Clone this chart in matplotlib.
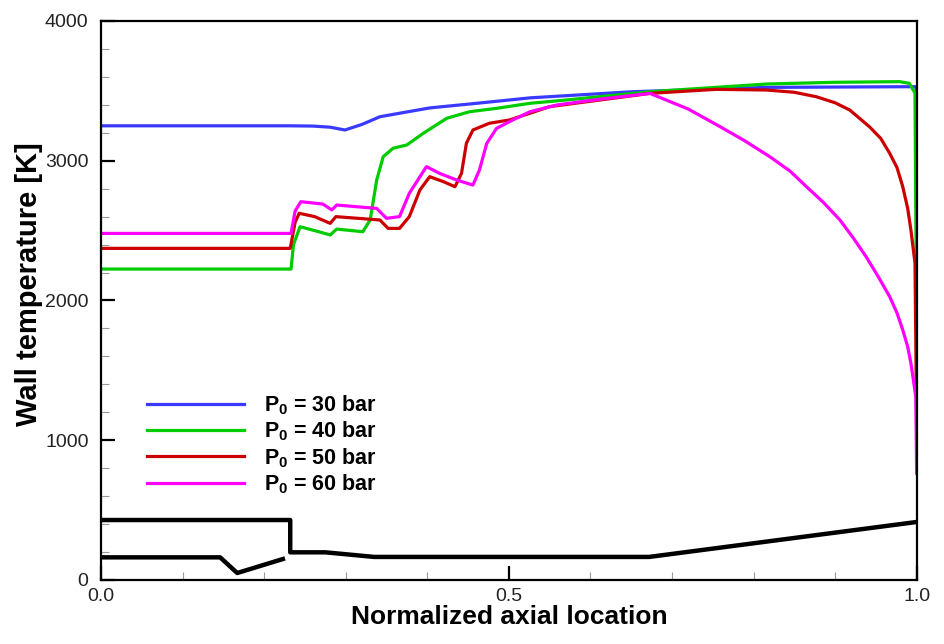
import matplotlib
matplotlib.use("Agg")
import matplotlib.pyplot as plt
from matplotlib.ticker import MultipleLocator

plt.rcParams['font.family'] = ['Liberation Sans', 'DejaVu Sans']
plt.rcParams['mathtext.fontset'] = 'custom'
plt.rcParams['mathtext.rm'] = 'Liberation Sans:bold'
plt.rcParams['mathtext.it'] = 'Liberation Sans:bold'
plt.rcParams['mathtext.bf'] = 'Liberation Sans:bold'

# wall temperature curves (normalized x, K)
x30 = [0, 0.232, 0.26, 0.281, 0.299, 0.32, 0.342, 0.403, 0.464, 0.526, 0.652, 0.816, 0.997, 0.9995, 1.0]
t30 = [3250, 3250, 3248, 3240, 3220, 3260, 3315, 3378, 3413, 3450, 3494, 3525, 3530, 3530, 2400]

x40 = [0, 0.233, 0.236, 0.244, 0.262, 0.281, 0.289, 0.321, 0.330, 0.338, 0.346, 0.358, 0.375,
       0.395, 0.424, 0.452, 0.485, 0.526, 0.571, 0.673, 0.816, 0.897, 0.979, 0.991, 0.998, 1.0]
t40 = [2225, 2225, 2400, 2528, 2500, 2469, 2511, 2492, 2576, 2862, 3029, 3089, 3113,
       3196, 3304, 3351, 3375, 3411, 3435, 3494, 3549, 3561, 3566, 3554, 3485, 1780]

x50 = [0, 0.232, 0.238, 0.243, 0.262, 0.281, 0.288, 0.342, 0.352, 0.366, 0.378, 0.391, 0.403,
       0.420, 0.434, 0.442, 0.448, 0.456, 0.476, 0.501, 0.526, 0.550, 0.673, 0.754, 0.816,
       0.850, 0.877, 0.900, 0.918, 0.942, 0.956, 0.967, 0.976, 0.983, 0.989, 0.993, 0.998, 1.0]
t50 = [2373, 2373, 2560, 2624, 2600, 2552, 2600, 2576, 2516, 2516, 2600, 2791, 2886,
       2850, 2814, 2910, 3125, 3220, 3268, 3292, 3340, 3387, 3482, 3511, 3506,
       3490, 3458, 3415, 3363, 3244, 3160, 3053, 2950, 2814, 2660, 2504, 2268, 1120]

x60 = [0, 0.233, 0.238, 0.245, 0.272, 0.283, 0.289, 0.338, 0.350, 0.366, 0.378, 0.399, 0.415,
       0.436, 0.456, 0.464, 0.473, 0.485, 0.505, 0.526, 0.559, 0.611, 0.673, 0.720, 0.759,
       0.790, 0.820, 0.845, 0.865, 0.886, 0.906, 0.922, 0.938, 0.953, 0.967, 0.976, 0.983,
       0.989, 0.993, 0.999, 1.0]
t60 = [2480, 2480, 2640, 2707, 2690, 2648, 2683, 2659, 2588, 2600, 2767, 2958, 2910,
       2862, 2826, 2934, 3125, 3232, 3292, 3351, 3399, 3440, 3482, 3370, 3244,
       3140, 3029, 2925, 2814, 2700, 2576, 2450, 2314, 2170, 2027, 1910, 1789,
       1670, 1551, 1312, 764]

# nozzle contour outlines (black)
xa = [0, 0.232, 0.232, 0.275, 0.335, 0.672, 1.0]
ya = [429, 429, 198, 198, 165, 165, 415]
xb = [0, 0.146, 0.167, 0.223]
yb = [162, 162, 50, 150]

labels = ['$P_0$ = 30 bar', '$P_0$ = 40 bar', '$P_0$ = 50 bar', '$P_0$ = 60 bar']
colors = ['#3a3aff', '#00cc00', '#cc0000', '#ff00ff']

fig = plt.figure(figsize=(9.44, 6.44), dpi=100)
ax = fig.add_axes([0.107, 0.0994, 0.864, 0.868])

for xs, ts, lab, c in zip([x30, x40, x50, x60], [t30, t40, t50, t60], labels, colors):
    ax.plot(xs, ts, color=c, lw=2.3, label=lab)

ax.plot(xa, ya, color='black', lw=3.2)
ax.plot(xb, yb, color='black', lw=3.2)

ax.set_xlim(0, 1.0)
ax.set_ylim(0, 4000)
ax.xaxis.set_major_locator(MultipleLocator(0.5))
ax.xaxis.set_minor_locator(MultipleLocator(0.1))
ax.yaxis.set_major_locator(MultipleLocator(1000))
ax.yaxis.set_minor_locator(MultipleLocator(200))
ax.xaxis.set_major_formatter(plt.FuncFormatter(lambda v, p: f'{v:.1f}'))
ax.tick_params(which='both', direction='in', labelsize=14, labelcolor='#222222')
ax.tick_params(axis='x', which='both', pad=6)
ax.tick_params(axis='y', which='both', pad=9)
ax.tick_params(which='major', length=10, width=1.6)
ax.tick_params(which='minor', length=6, width=0.8, color='#999999')
for sp in ax.spines.values():
    sp.set_linewidth(1.6)

ax.set_xlabel('Normalized axial location', fontsize=19, fontweight='bold', labelpad=0)
ax.set_ylabel('Wall temperature [K]', fontsize=21, fontweight='bold')
ax.yaxis.set_label_coords(-0.071, 0.53)

leg = ax.legend(loc='upper left', bbox_to_anchor=(0.033, 0.368), frameon=False,
                handlelength=4.5, handletextpad=0.9, labelspacing=0.12,
                prop={'size': 15.5, 'weight': 'bold'})

fig.savefig('out.png', dpi=100)
